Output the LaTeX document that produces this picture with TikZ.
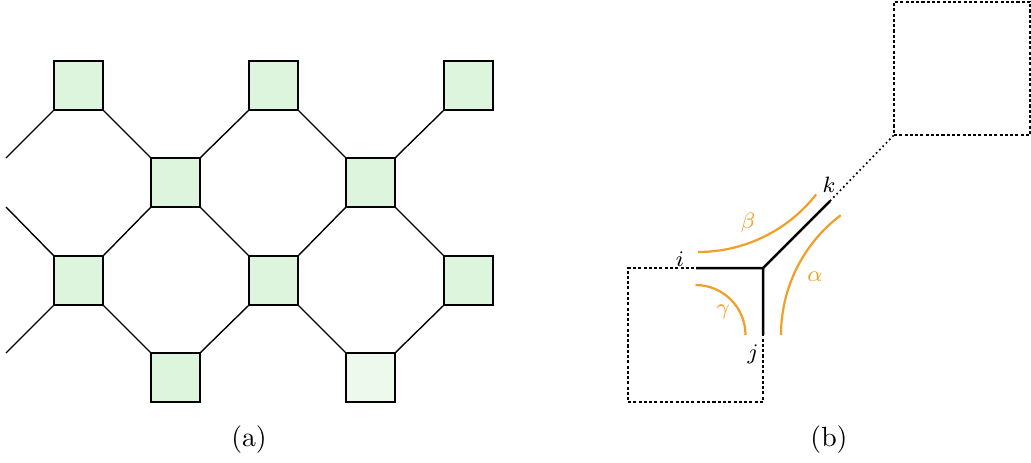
\documentclass[tikz,border=0pt]{standalone}
\usetikzlibrary{calc}
\definecolor{cellgreen}{RGB}{220,245,220}
\definecolor{cellpale}{RGB}{238,249,238}
\definecolor{arcorange}{RGB}{240,160,40}
\tikzset{
  cell/.style={draw=black, line width=0.6pt, fill=cellgreen, minimum size=17.6pt, inner sep=0pt, outer sep=0pt},
  bond/.style={line width=0.5pt},
  ghost/.style={draw=black, line width=0.5pt, dash pattern=on 1.1pt off 0.8pt, inner sep=0pt, outer sep=0pt},
  leg/.style={line width=0.9pt},
  link/.style={line width=0.6pt, dash pattern=on 0.6pt off 1.1pt},
  phase/.style={draw=arcorange, line width=0.8pt},
  lbl/.style={font=\footnotesize, inner sep=1pt},
  glbl/.style={font=\footnotesize, text=arcorange, inner sep=1pt},
}
\begin{document}
\begin{tikzpicture}[x=0.36pt, y=0.36pt]
\useasboundingbox (0,0) rectangle (1031,462);

% ---- (a) square-octagon lattice ----
\node[cell] (a1) at (78.5,376.5) {};
\node[cell] (a2) at (273.5,376.5) {};
\node[cell] (a3) at (468.5,376.5) {};
\node[cell] (b1) at (175.5,279.5) {};
\node[cell] (b2) at (370.5,279.5) {};
\node[cell] (c1) at (78.5,181.5) {};
\node[cell] (c2) at (273.5,181.5) {};
\node[cell] (c3) at (468.5,181.5) {};
\node[cell] (d1) at (175.5,84.5) {};
\node[cell, fill=cellpale] (d2) at (370.5,84.5) {};

\coordinate (e1) at (6,304);
\coordinate (e2) at (6,255);
\coordinate (e3) at (6,109);

\draw[bond] (e1) -- (a1.south west);
\draw[bond] (a1.south east) -- (b1.north west);
\draw[bond] (b1.north east) -- (a2.south west);
\draw[bond] (a2.south east) -- (b2.north west);
\draw[bond] (b2.north east) -- (a3.south west);
\draw[bond] (e2) -- (c1.north west);
\draw[bond] (b1.south west) -- (c1.north east);
\draw[bond] (b1.south east) -- (c2.north west);
\draw[bond] (b2.south west) -- (c2.north east);
\draw[bond] (b2.south east) -- (c3.north west);
\draw[bond] (e3) -- (c1.south west);
\draw[bond] (c1.south east) -- (d1.north west);
\draw[bond] (d1.north east) -- (c2.south west);
\draw[bond] (c2.south east) -- (d2.north west);
\draw[bond] (d2.north east) -- (c3.south west);

\node (capa) at (249,22) {(a)};

% ---- (b) a single vertex with its three legs ----
\node[ghost, minimum width=48.6pt, minimum height=48.2pt] (lo) at (695.5,127) {};
\node[ghost, minimum width=49pt, minimum height=47.9pt] (up) at (962,393.5) {};

\coordinate (v) at (lo.north east);
\coordinate (i) at (696,194);
\coordinate (j) at (763,127);
\coordinate (k) at (830,261);

\draw[link] (k) -- (up.south west);
\draw[leg] (i) -- (v) -- (j);
\draw[leg] (v) -- (k);

\draw[phase] ($(lo.center)+(0,50)$) arc[start angle=90, end angle=0, radius=50];
\draw[phase] (698,210) arc[start angle=-90, end angle=-38, radius=150];
\draw[phase] (781,127) arc[start angle=180, end angle=127, radius=150];

\node[lbl] (li) at (680,203) {$i$};
\node[lbl] (lj) at (753,108) {$j$};
\node[lbl] (lk) at (829,277) {$k$};
\node[glbl] (lb) at (748,239) {$\beta$};
\node[glbl] (la) at (815,185) {$\alpha$};
\node[glbl] (lg) at (723,150) {$\gamma$};

\node (capb) at (829,22) {(b)};
\end{tikzpicture}
\end{document}
